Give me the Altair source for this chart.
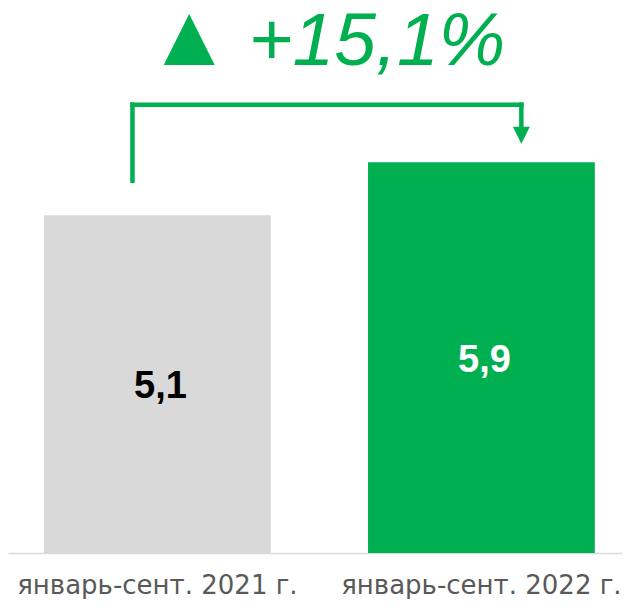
import altair as alt
import pandas as pd

# ---- data -------------------------------------------------------------
periods = ["январь-сент. 2021 г.", "январь-сент. 2022 г."]
values = [5.1, 5.9]
change_text = "+15,1%"

GREEN = "#00B050"
GRAY_BAR = "#D9D9D9"
AXIS_TEXT = "#595959"

df = pd.DataFrame({
    "period": periods,
    "value": values,
    "label": [f"{v:.1f}".replace(".", ",") for v in values],
})
ann = pd.DataFrame({"start": [periods[0]], "end": [periods[1]], "change": [change_text]})

# ---- scales -----------------------------------------------------------
x_scale = alt.Scale(domain=periods, paddingInner=0.3, paddingOuter=0.0975, align=0.57)
y_scale = alt.Scale(domain=[0, 8.23], nice=False, zero=True)

x_axis = alt.Axis(
    title=None, ticks=False, grid=False, labelAngle=0,
    labelFont="DejaVu Sans", labelFontSize=26, labelColor=AXIS_TEXT,
    labelPadding=40, labelBaseline="alphabetic", labelLimit=0,
    labelOverlap=False, domainColor="#D9D9D9", domainWidth=1.5,
)

base = alt.Chart(df)

bars = base.mark_bar().encode(
    x=alt.X("period:N", scale=x_scale, axis=x_axis, sort=periods),
    y=alt.Y("value:Q", scale=y_scale, axis=None),
    color=alt.condition(alt.datum.period == periods[0], alt.value(GRAY_BAR), alt.value(GREEN)),
)

value_labels = base.transform_calculate(mid="datum.value / 2").mark_text(
    font="Liberation Sans", fontWeight="bold", fontSize=38,
    baseline="alphabetic", align="center", dy=14, dx=3,
).encode(
    x=alt.X("period:N"),
    y=alt.Y("mid:Q"),
    text="label:N",
    color=alt.condition(alt.datum.period == periods[0], alt.value("#000000"), alt.value("#FFFFFF")),
)

a = alt.Chart(ann)
L_POS, R_POS = 0.39, 0.676
rule_style = dict(color=GREEN, strokeWidth=4.5, strokeCap="square")

left_v = a.mark_rule(**rule_style).encode(
    x=alt.X("start:N", bandPosition=L_POS), y=alt.datum(5.62), y2=alt.datum(6.77))
top_h = a.mark_rule(**rule_style).encode(
    x=alt.X("start:N", bandPosition=L_POS), x2=alt.X2("end:N", bandPosition=R_POS),
    y=alt.datum(6.77))
right_v = a.mark_rule(**rule_style).encode(
    x=alt.X("end:N", bandPosition=R_POS), y=alt.datum(6.77), y2=alt.datum(6.33))
arrow_head = a.mark_point(
    shape="M-1,-1L1,-1L0,1Z", size=289, filled=True, opacity=1, color=GREEN, strokeWidth=0,
).encode(x=alt.X("end:N", bandPosition=R_POS), y=alt.datum(6.31))

up_tri = a.mark_point(
    shape="M0,-1L1,1L-1,1Z", size=2601, filled=True, opacity=1, color=GREEN, strokeWidth=0,
).encode(x=alt.X("start:N", bandPosition=0.64), y=alt.datum(7.755))

change = a.mark_text(
    font="Liberation Sans", fontStyle="italic", fontSize=75, color=GREEN,
    align="left", baseline="alphabetic",
).encode(x=alt.X("start:N", bandPosition=0.903), y=alt.datum(7.369), text="change:N")

chart = alt.layer(
    bars, value_labels, left_v, top_h, right_v, arrow_head, up_tri, change
).properties(
    width=614, height=545,
    padding={"left": 0, "top": 0, "right": 0, "bottom": 46},
    autosize=alt.AutoSizeParams(type="none"),
).configure_view(stroke=None)

chart.save("out.html", embed_options={"renderer": "svg", "actions": False})
